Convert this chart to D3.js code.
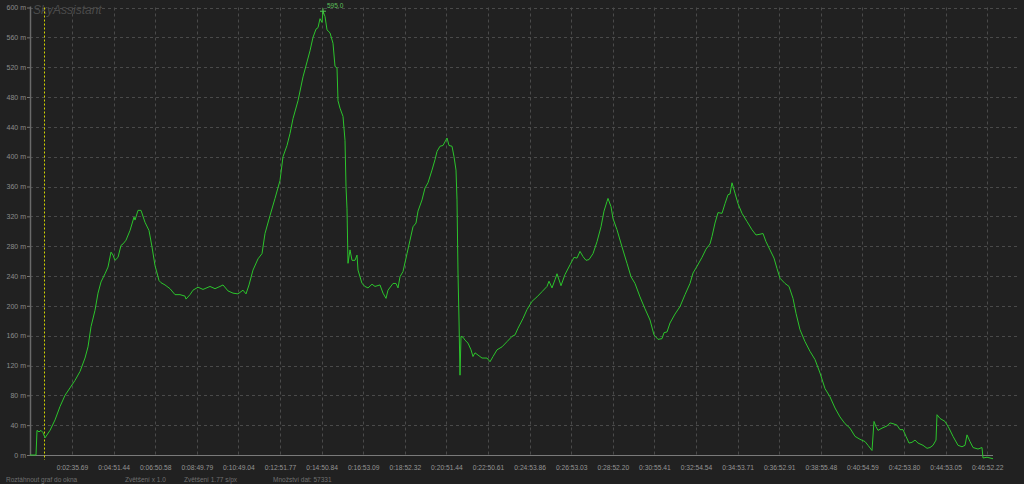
<!DOCTYPE html>
<html>
<head>
<meta charset="utf-8">
<script src="https://cdn.jsdelivr.net/npm/d3@7"></script>
<style>
  html, body { margin: 0; padding: 0; background: #212121; }
  svg { display: block; }
</style>
</head>
<body>
<svg id="chart" width="1024" height="484"></svg>
<script>
// ---- DATA ----
// [sample index, elevation in m]
const profile = [[0,0],[6,0],[7,33],[9,31],[11,33],[13,30],[15,23],[20,33],[25,47],[30,65],[35,80],[40,90],[45,100],[50,112],[55,130],[58,145],[61,172],[65,194],[68,217],[71,232],[75,243],[78,252],[81,272],[83,268],[85,261],[88,265],[91,281],[93,283],[96,288],[100,301],[104,319],[105,315],[108,328],[111,328],[115,312],[119,301],[122,279],[125,254],[129,234],[131,231],[135,228],[140,223],[145,215],[150,215],[155,213],[156,209],[160,215],[163,221],[168,225],[173,222],[180,226],[185,223],[190,226],[193,228],[198,220],[203,217],[208,216],[213,221],[216,216],[219,228],[223,248],[228,263],[232,270],[235,297],[240,321],[245,344],[250,368],[253,400],[257,415],[260,431],[263,451],[268,475],[273,507],[277,527],[280,542],[283,560],[286,571],[288,573],[290,585],[292,580],[293,595],[295,588],[297,570],[300,566],[303,552],[305,521],[307,519],[308,475],[310,465],[313,454],[315,422],[316,360],[317,330],[318,257],[320,275],[322,261],[325,261],[327,268],[328,248],[332,230],[335,226],[338,224],[342,229],[345,226],[350,228],[353,217],[356,210],[358,221],[363,230],[366,230],[368,224],[370,239],[373,246],[377,270],[380,288],[383,306],[386,311],[388,327],[392,342],[395,358],[398,365],[402,382],[405,396],[407,407],[410,414],[413,415],[417,425],[419,415],[422,414],[424,400],[426,382],[427,342],[428,244],[429,181],[430,107],[431,159],[433,158],[435,154],[438,150],[441,141],[443,132],[445,137],[448,134],[452,130],[457,130],[460,125],[463,132],[467,141],[472,145],[477,152],[482,159],[485,161],[488,170],[493,183],[497,195],[502,206],[507,212],[512,219],[517,226],[519,233],[522,224],[525,235],[527,243],[531,227],[535,242],[540,255],[544,265],[547,264],[550,273],[553,266],[556,261],[559,262],[563,270],[567,286],[571,306],[574,327],[577,340],[578,344],[581,333],[583,317],[587,302],[592,279],[597,257],[601,239],[605,230],[610,212],[615,196],[620,181],[624,161],[628,155],[632,156],[634,164],[637,165],[640,177],[645,189],[650,199],[655,215],[660,230],[663,244],[667,253],[672,265],[676,276],[680,283],[682,293],[685,311],[688,325],[692,324],[695,337],[698,349],[700,350],[702,365],[705,351],[708,337],[712,324],[717,313],[722,302],[726,295],[730,296],[733,297],[736,286],[740,275],[744,264],[747,250],[750,237],[755,230],[759,226],[763,210],[766,190],[770,168],[775,152],[780,139],[785,128],[790,110],[795,89],[800,78],[805,63],[810,51],[815,42],[820,36],[825,25],[830,21],[835,18],[838,13],[842,6],[844,45],[846,38],[848,33],[852,36],[857,39],[860,43],[863,42],[867,40],[870,34],[873,34],[876,25],[879,16],[882,17],[885,20],[888,16],[893,13],[897,9],[900,10],[903,13],[906,20],[907,54],[910,49],[915,45],[919,36],[923,25],[928,13],[932,11],[935,13],[937,27],[940,18],[943,10],[948,8],[952,10],[953,-4],[957,-3],[960,-4],[963,-5]];
const yTicks = [0,40,80,120,160,200,240,280,320,360,400,440,480,520,560,600];
const xTickLabels = ["0:02:35.69","0:04:51.44","0:06:50.58","0:08:49.79","0:10:49.04","0:12:51.77","0:14:50.84","0:16:53.09","0:18:52.32","0:20:51.44","0:22:50.61","0:24:53.86","0:26:53.03","0:28:52.20","0:30:55.41","0:32:54.54","0:34:53.71","0:36:52.91","0:38:55.48","0:40:54.59","0:42:53.80","0:44:53.05","0:46:52.22"];
const peakValue = 595.0;
const cursorSample = 14;
const statusTexts = ["Roztáhnout graf do okna","Zvětšení x 1.0","Zvětšení  1.77 s/px","Množství dat: 57331"];
const title = "SkyAssistant";

// ---- LAYOUT ----
const svg = d3.select("#chart");
const mLeft = 30, mRight = 993, mTop = 7.5, mBottom = 455;
const x = d3.scaleLinear().domain([0, 963]).range([mLeft, mRight]);
const y = d3.scaleLinear().domain([0, 600]).range([mBottom, mTop]);
const tickStart = 42, tickStep = 41.6;
const xTickSamples = xTickLabels.map((d, i) => tickStart + i * tickStep);

svg.append("rect").attr("width", 1024).attr("height", 484).attr("fill", "#212121");

// horizontal grid
svg.append("g").selectAll("line").data(yTicks.filter(d => d > 0)).join("line")
  .attr("x1", mLeft).attr("x2", 1019)
  .attr("y1", d => Math.round(y(d)) + 0.5).attr("y2", d => Math.round(y(d)) + 0.5)
  .attr("stroke", "#4a4a4a").attr("stroke-dasharray", "3,3");

// vertical grid
svg.append("g").selectAll("line").data(xTickSamples).join("line")
  .attr("x1", d => Math.round(x(d)) + 0.5).attr("x2", d => Math.round(x(d)) + 0.5)
  .attr("y1", mTop).attr("y2", mBottom)
  .attr("stroke", "#4a4a4a").attr("stroke-dasharray", "3,3");

// title
svg.append("text").attr("x", 33).attr("y", 13.5)
  .attr("font-family", "Liberation Sans, Arial, sans-serif").attr("font-style", "italic")
  .attr("font-size", 12).attr("fill", "#4a4a4a").text(title);

// y axis
const yAxis = d3.axisLeft(y).tickValues(yTicks).tickSize(3).tickPadding(1).tickFormat(d => d + " m");
const gy = svg.append("g").attr("transform", `translate(${mLeft},0)`).call(yAxis);
gy.select(".domain").remove();
gy.selectAll(".tick line").attr("stroke", "#777");
gy.selectAll(".tick text").attr("fill", "#8c8c8c").attr("font-size", 7)
  .attr("font-family", "Liberation Sans, Arial, sans-serif");
svg.append("line").attr("x1", mLeft + 0.5).attr("x2", mLeft + 0.5).attr("y1", mTop - 1).attr("y2", mBottom + 1)
  .attr("stroke", "#6a6a6a").attr("stroke-width", 1.5);

// x axis
const xAxis = d3.axisBottom(x).tickValues(xTickSamples).tickSize(0).tickPadding(10)
  .tickFormat((d, i) => xTickLabels[i]);
const gx = svg.append("g").attr("transform", `translate(0,${mBottom})`).call(xAxis);
gx.select(".domain").remove();
gx.selectAll(".tick text").attr("fill", "#959595").attr("font-size", 6.7)
  .attr("font-family", "Liberation Sans, Arial, sans-serif");
svg.append("line").attr("x1", mLeft).attr("x2", mRight).attr("y1", mBottom + 0.5).attr("y2", mBottom + 0.5)
  .attr("stroke", "#7a7a7a").attr("stroke-width", 1.2);

// cursor line
svg.append("line").attr("x1", Math.round(x(cursorSample)) + 0.5).attr("x2", Math.round(x(cursorSample)) + 0.5)
  .attr("y1", mTop).attr("y2", mBottom + 5)
  .attr("stroke", "#d4d400").attr("stroke-dasharray", "2,2");

// profile line
svg.append("path").datum(profile)
  .attr("d", d3.line().x(d => x(d[0])).y(d => y(d[1])))
  .attr("fill", "none").attr("stroke", "#2cc42c").attr("stroke-width", 1);

// peak marker
const peak = profile.find(d => d[1] === peakValue);
const px = x(peak[0]), py = y(peakValue);
svg.append("path").attr("d", `M${px - 3},${py}H${px + 3}M${px},${py - 3}V${py + 3}`)
  .attr("stroke", "#4cc84c").attr("stroke-width", 1);
svg.append("text").attr("x", px + 4).attr("y", py - 3.5)
  .attr("font-family", "Liberation Sans, Arial, sans-serif").attr("font-size", 6.5)
  .attr("fill", "#5cc05c").text(peakValue.toFixed(1));

// status bar
const statusX = [6, 125, 184, 273];
svg.append("g").selectAll("text").data(statusTexts).join("text")
  .attr("x", (d, i) => statusX[i]).attr("y", 481.5)
  .attr("font-family", "Liberation Sans, Arial, sans-serif").attr("font-size", 6.5)
  .attr("fill", "#707070").text(d => d);
</script>
</body>
</html>
